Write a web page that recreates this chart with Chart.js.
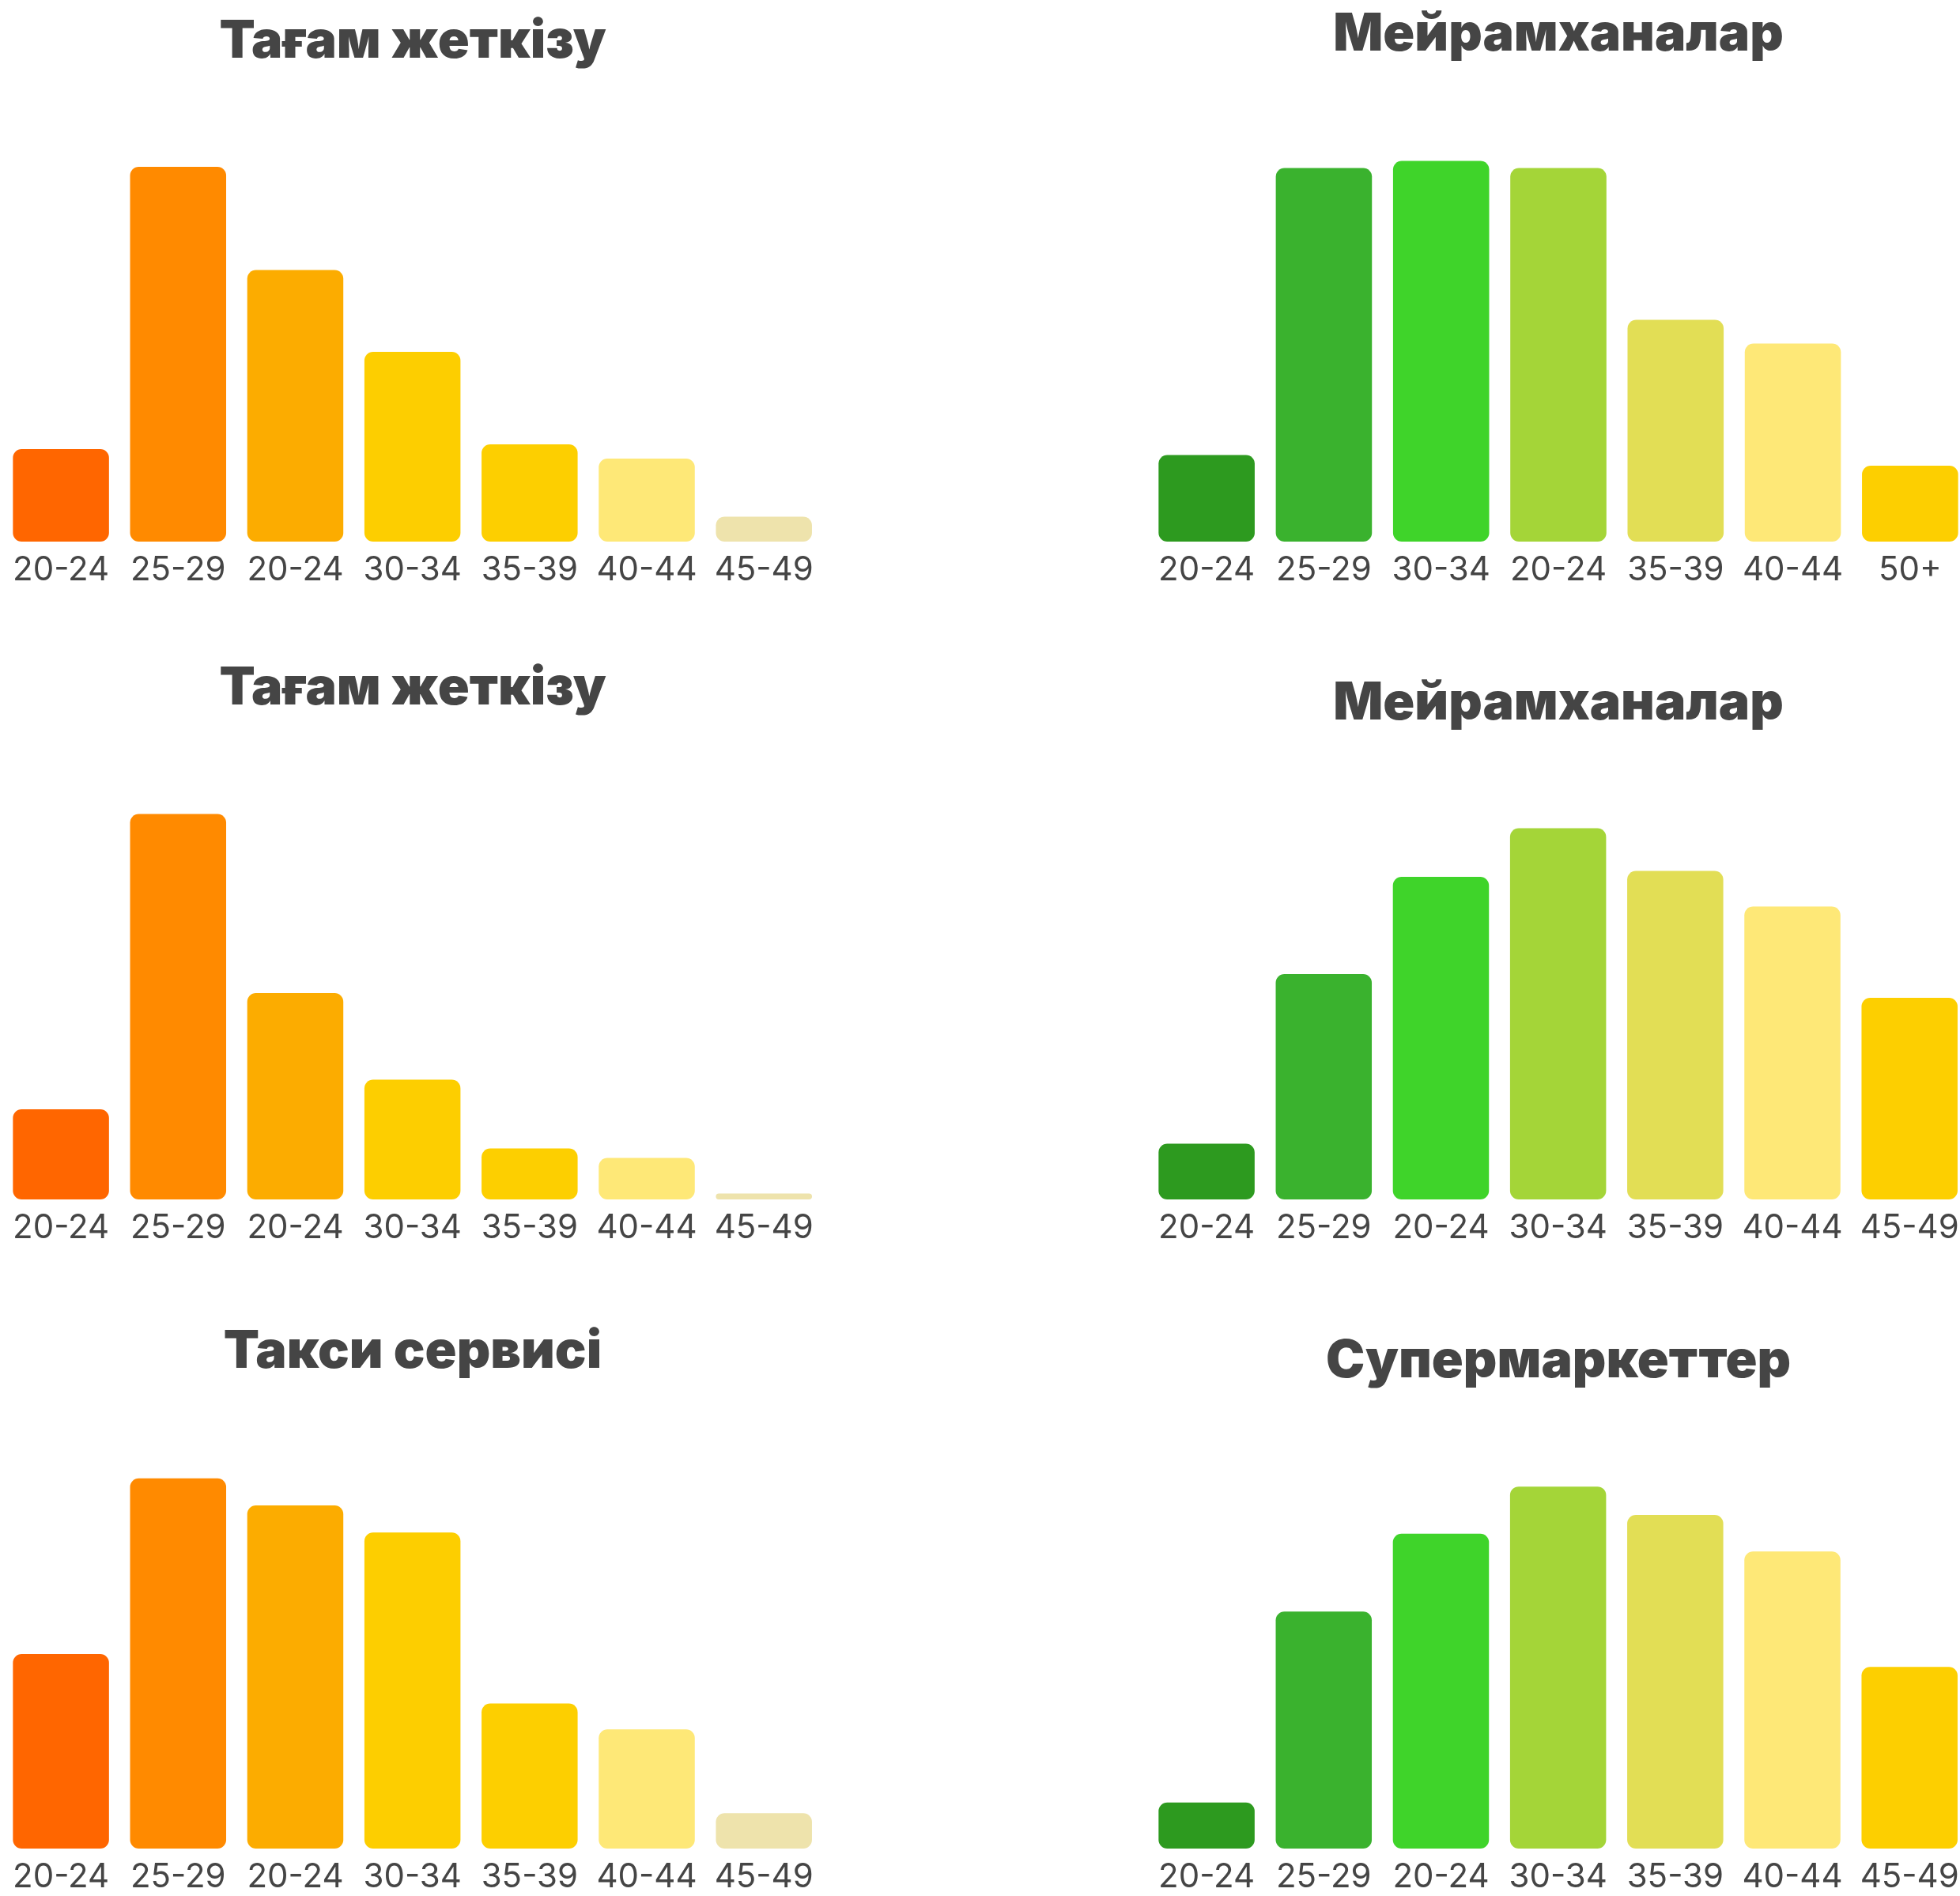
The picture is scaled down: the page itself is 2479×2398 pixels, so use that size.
<!DOCTYPE html>
<html>
<head>
<meta charset="utf-8">
<script src="https://cdn.jsdelivr.net/npm/chart.js@4.4.1/dist/chart.umd.min.js"></script>
<style>
  html, body { margin: 0; padding: 0; background: #ffffff; overflow: hidden; width: 2479px; height: 2398px; }
  canvas { position: absolute; display: block; }
</style>
</head>
<body>
<canvas id="c1" width="1044" height="745" style="left:0px;top:0px"></canvas>
<canvas id="c2" width="1044" height="745" style="left:1449px;top:0px"></canvas>
<canvas id="c3" width="1044" height="777" style="left:0px;top:800px"></canvas>
<canvas id="c4" width="1044" height="777" style="left:1449px;top:800px"></canvas>
<canvas id="c5" width="1044" height="758" style="left:0px;top:1640px"></canvas>
<canvas id="c6" width="1044" height="758" style="left:1449px;top:1640px"></canvas>
<script>
// Age groups shown under each panel
const deliveryAges    = ['20-24', '25-29', '20-24', '30-34', '35-39', '40-44', '45-49'];
const restaurantAgesA = ['20-24', '25-29', '30-34', '20-24', '35-39', '40-44', '50+'];
const restaurantAgesB = ['20-24', '25-29', '20-24', '30-34', '35-39', '40-44', '45-49'];
const taxiAges        = ['20-24', '25-29', '20-24', '30-34', '35-39', '40-44', '45-49'];
const supermarketAges = ['20-24', '25-29', '20-24', '30-34', '35-39', '40-44', '45-49'];

// Share of users per age group
const deliveryA    = [7.8, 31.6, 22.9, 16.0, 8.2, 7.0, 2.1];
const restaurantsA = [7.3, 31.5, 32.1, 31.5, 18.7, 16.7, 6.4];
const deliveryB    = [7.6, 32.5, 17.4, 10.1, 4.3, 3.5, 0.5];
const restaurantsB = [4.7, 19.0, 27.2, 31.3, 27.7, 24.7, 17.0];
const taxi         = [16.5, 31.4, 29.1, 26.8, 12.3, 10.1, 3.0];
const supermarkets = [3.9, 20.1, 26.7, 30.7, 28.3, 25.2, 15.4];

// Panel titles
const titleDelivery    = 'Тағам жеткізу';
const titleRestaurants = 'Мейрамханалар';
const titleTaxi        = 'Такси сервисі';
const titleSupermarket = 'Супермаркеттер';

// Bar palettes
const warmPalette  = ['#FF6600', '#FF8A00', '#FCAC00', '#FDCE00', '#FDCF00', '#FEE877', '#EEE3AC'];
const greenPalette = ['#2D9A1F', '#3AB22E', '#3FD42A', '#A4D538', '#E2DE55', '#FEE877', '#FDCF00'];

const TEXT = '#454545';

function makeChart(id, title, labels, values, colors, padTop, padBottom) {
  return new Chart(document.getElementById(id), {
    type: 'bar',
    data: {
      labels: labels,
      datasets: [{
        data: values,
        backgroundColor: colors,
        borderRadius: 11,
        borderSkipped: false,
        barPercentage: 0.82,
        categoryPercentage: 1
      }]
    },
    options: {
      responsive: false,
      animation: false,
      layout: { padding: { left: 3, right: 3, top: 0, bottom: 0 } },
      plugins: {
        legend: { display: false },
        tooltip: { enabled: false },
        title: {
          display: true,
          text: title,
          color: TEXT,
          font: { family: 'Inter', weight: '900', size: 66, lineHeight: 1 },
          padding: { top: padTop, bottom: padBottom }
        }
      },
      scales: {
        x: {
          grid: { display: false, drawTicks: false },
          border: { display: false },
          ticks: {
            color: TEXT,
            font: { family: 'Inter', size: 42, lineHeight: 1 },
            padding: 15,
            maxRotation: 0,
            autoSkip: false
          },
          afterFit(axis) { axis.height = 60; }
        },
        y: { display: false, min: 0, max: 35 }
      }
    }
  });
}

function drawAll() {
  makeChart('c1', titleDelivery,    deliveryAges,    deliveryA,    warmPalette,  20, 74);
  makeChart('c2', titleRestaurants, restaurantAgesA, restaurantsA, greenPalette, 11, 83);
  makeChart('c3', titleDelivery,    deliveryAges,    deliveryB,    warmPalette,  38, 88);
  makeChart('c4', titleRestaurants, restaurantAgesB, restaurantsB, greenPalette, 57, 69);
  makeChart('c5', titleTaxi,        taxiAges,        taxi,         warmPalette,  37, 73);
  makeChart('c6', titleSupermarket, supermarketAges, supermarkets, greenPalette, 49, 61);
}

Promise.all([
  document.fonts.load("900 66px Inter"),
  document.fonts.load("400 42px Inter")
]).then(drawAll, drawAll);
</script>
</body>
</html>
